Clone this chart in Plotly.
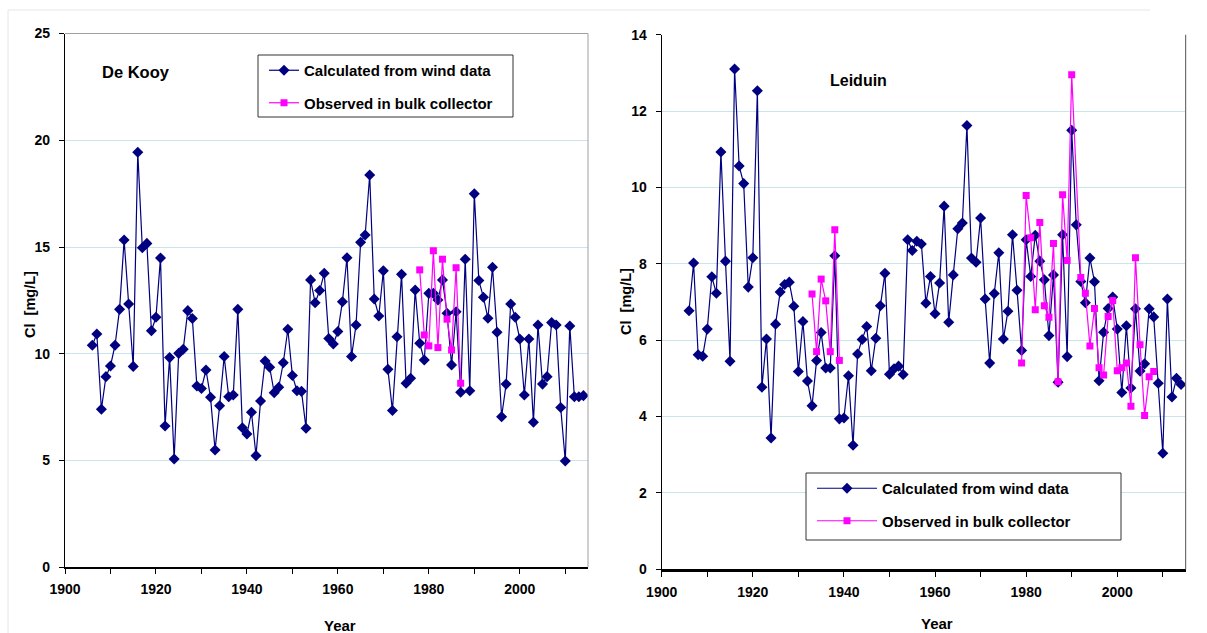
import plotly.graph_objects as go

# ---------------- data ----------------
years = list(range(1906, 2015))

dekooy_calc = [
    10.40, 10.93, 7.40, 8.93, 9.43, 10.40, 12.08, 15.33, 12.33, 9.41,   # 1906-1915
    19.44, 14.97, 15.17, 11.08, 11.71, 14.49, 6.62, 9.82, 5.07, 10.02,   # 1916-1925
    10.21, 12.02, 11.65, 8.49, 8.37, 9.24, 7.96, 5.49, 7.57, 9.87,       # 1926-1935
    7.99, 8.07, 12.08, 6.54, 6.24, 7.26, 5.23, 7.79, 9.66, 9.37,         # 1936-1945
    8.18, 8.43, 9.58, 11.15, 8.98, 8.27, 8.24, 6.51, 13.46, 12.39,       # 1946-1955
    12.96, 13.77, 10.72, 10.46, 11.04, 12.44, 14.50, 9.87, 11.35, 15.22, # 1956-1965
    15.56, 18.37, 12.57, 11.77, 13.89, 9.27, 7.34, 10.80, 13.72, 8.62,   # 1966-1975
    8.85, 12.99, 10.49, 9.71, 12.83, 12.83, 12.52, 13.46, 11.90, 9.48,   # 1976-1985
    11.97, 8.20, 14.43, 8.27, 17.49, 13.43, 12.65, 11.66, 14.05, 11.01,  # 1986-1995
    7.05, 8.58, 12.33, 11.71, 10.69, 8.07, 10.69, 6.79, 11.35, 8.58,     # 1996-2005
    8.93, 11.46, 11.35, 7.48, 4.98, 11.30, 7.99, 7.99, 8.04              # 2006-2014
]

dekooy_obs_years = [1978, 1979, 1980, 1981, 1982, 1983, 1984, 1985, 1986, 1987]
dekooy_obs = [13.93, 10.88, 10.37, 14.82, 10.29, 14.43, 11.62, 10.18, 14.03, 8.62]

leiduin_calc = [
    6.77, 8.02, 5.62, 5.58, 6.29, 7.66, 7.23, 10.93, 8.07, 5.45,         # 1906-1915
    13.10, 10.56, 10.10, 7.39, 8.16, 12.53, 4.77, 6.03, 3.44, 6.42,      # 1916-1925
    7.26, 7.46, 7.52, 6.89, 5.18, 6.49, 4.93, 4.28, 5.47, 6.20,          # 1926-1935
    5.27, 5.27, 8.21, 3.94, 3.96, 5.07, 3.25, 5.64, 6.02, 6.36,          # 1936-1945
    5.20, 6.05, 6.90, 7.75, 5.11, 5.25, 5.32, 5.10, 8.63, 8.35,          # 1946-1955
    8.59, 8.52, 6.97, 7.67, 6.69, 7.50, 9.51, 6.47, 7.71, 8.92,          # 1956-1965
    9.07, 11.62, 8.15, 8.04, 9.20, 7.08, 5.40, 7.22, 8.29, 6.03,         # 1966-1975
    6.76, 8.76, 7.31, 5.73, 8.63, 7.67, 8.75, 8.07, 7.58, 6.12,          # 1976-1985
    7.71, 4.90, 8.76, 5.57, 11.50, 9.02, 7.54, 6.98, 8.15, 7.53,         # 1986-1995
    4.94, 6.21, 6.83, 7.13, 6.29, 4.63, 6.38, 4.75, 6.82, 5.19,          # 1996-2005
    5.38, 6.82, 6.61, 4.87, 3.04, 7.08, 4.51, 5.00, 4.84                 # 2006-2014
]

leiduin_obs_years = [1933, 1934, 1935, 1936, 1937, 1938, 1939, 1940,
                     1979, 1980, 1981, 1982, 1983, 1984, 1985, 1986, 1987, 1988, 1989, 1990,
                     1992, 1993, 1994, 1995, 1996, 1997, 1998, 1999, 2000,
                     2001, 2002, 2003, 2004, 2005, 2006, 2007, 2008]
leiduin_obs = [7.21, 5.70, 7.60, 7.03, 5.70, 8.89, 5.47, None,
               5.40, 9.79, 8.68, 6.80, 9.08, 6.90, 6.60, 8.53, 4.91, 9.81, 8.09, 12.95,
               7.64, 7.23, 5.85, 6.83, 5.28, 5.09, 6.62, 7.04, 5.20,
               5.28, 5.40, 4.27, 8.16, 5.88, 4.03, 5.04, 5.18]

x_ticks = [1900, 1920, 1940, 1960, 1980, 2000]
name_calc = "Calculated from wind data"
name_obs = "Observed in bulk collector"

# ---------------- figure ----------------
W, H = 1207, 633
FONT = "Liberation Sans, Arial, sans-serif"
NAVY = "#000080"
MAG = "#FF00FF"
GRID = "#c9e4ec"


def px_x(p):
    return p / W


def px_y(p):
    return 1 - p / H


fig = go.Figure()

fig.add_trace(go.Scatter(x=years, y=dekooy_calc, name=name_calc, mode="lines+markers",
                         line=dict(color=NAVY, width=1.2),
                         marker=dict(symbol="diamond", size=8.5, color=NAVY),
                         xaxis="x", yaxis="y", legend="legend", legendgroup="a"))
fig.add_trace(go.Scatter(x=dekooy_obs_years, y=dekooy_obs, name=name_obs, mode="lines+markers",
                         line=dict(color=MAG, width=1.2),
                         marker=dict(symbol="square", size=7, color=MAG),
                         xaxis="x", yaxis="y", legend="legend", legendgroup="b"))
fig.add_trace(go.Scatter(x=years, y=leiduin_calc, name=name_calc, mode="lines+markers",
                         line=dict(color=NAVY, width=1.2),
                         marker=dict(symbol="diamond", size=8.5, color=NAVY),
                         xaxis="x2", yaxis="y2", legend="legend2", legendgroup="c"))
fig.add_trace(go.Scatter(x=leiduin_obs_years, y=leiduin_obs, name=name_obs, mode="lines+markers",
                         connectgaps=False,
                         line=dict(color=MAG, width=1.2),
                         marker=dict(symbol="square", size=7, color=MAG),
                         xaxis="x2", yaxis="y2", legend="legend2", legendgroup="d"))

tickfont = dict(family=FONT, size=14, color="black", weight="bold")

xcommon = dict(range=[1900, 2015], tickvals=x_ticks, ticks="outside", ticklen=5,
               tickcolor="black", showgrid=False, zeroline=False, showline=True,
               linecolor="black", tickfont=tickfont, ticklabelstandoff=3, automargin=False,
               minor=dict(tickvals=list(range(1910, 2015, 20)), ticks="outside",
                          ticklen=5, tickcolor="black", showgrid=False))
ycommon = dict(ticks="outside", ticklen=5, tickcolor="black", showgrid=True,
               gridcolor=GRID, gridwidth=1, zeroline=False, showline=True,
               linecolor="black", linewidth=1.2, tickfont=tickfont, ticklabelstandoff=6,
               automargin=False)

legend_common = dict(bgcolor="rgba(0,0,0,0)", borderwidth=0,
                     font=dict(family=FONT, size=15, color="black", weight="bold"),
                     xanchor="left", yanchor="top", tracegroupgap=10,
                     orientation="v")

fig.update_layout(
    width=W, height=H,
    margin=dict(l=0, r=0, t=0, b=0, autoexpand=False),
    paper_bgcolor="white", plot_bgcolor="white",
    showlegend=True,
    xaxis=dict(domain=[px_x(65), px_x(588)], anchor="y", linewidth=1.5, **xcommon),
    yaxis=dict(domain=[px_y(567.3), px_y(33.5)], anchor="x", range=[0, 25],
               tickvals=[0, 5, 10, 15, 20, 25], **ycommon),
    xaxis2=dict(domain=[px_x(661.7), px_x(1185.6)], anchor="y2", linewidth=2.5, **xcommon),
    yaxis2=dict(domain=[px_y(569.3), px_y(34.7)], anchor="x2", range=[0, 14],
                tickvals=[0, 2, 4, 6, 8, 10, 12, 14], **ycommon),
    legend=dict(x=px_x(264), y=px_y(54), itemwidth=30, **legend_common),
    legend2=dict(x=px_x(812), y=px_y(472), itemwidth=60, **legend_common),
    annotations=[
        dict(text="De Kooy", x=px_x(100), y=px_y(72), xref="paper", yref="paper",
             xanchor="left", yanchor="middle", showarrow=False,
             font=dict(family=FONT, size=16.5, color="black", weight="bold")),
        dict(text="Leiduin", x=px_x(828), y=px_y(80), xref="paper", yref="paper",
             xanchor="left", yanchor="middle", showarrow=False,
             font=dict(family=FONT, size=16, color="black", weight="bold")),
        dict(text="Cl  [mg/L]", x=px_x(30), y=px_y(305), xref="paper", yref="paper",
             textangle=-90, showarrow=False, xanchor="center", yanchor="middle",
             font=dict(family=FONT, size=14.5, color="black", weight="bold")),
        dict(text="Cl  [mg/L]", x=px_x(626), y=px_y(302), xref="paper", yref="paper",
             textangle=-90, showarrow=False, xanchor="center", yanchor="middle",
             font=dict(family=FONT, size=14.5, color="black", weight="bold")),
        dict(text="Year", x=px_x(340), y=px_y(625), xref="paper", yref="paper",
             showarrow=False, xanchor="center", yanchor="middle",
             font=dict(family=FONT, size=15, color="black", weight="bold")),
        dict(text="Year", x=px_x(937), y=px_y(623), xref="paper", yref="paper",
             showarrow=False, xanchor="center", yanchor="middle",
             font=dict(family=FONT, size=15, color="black", weight="bold")),
    ],
    shapes=[
        # plot-area borders (top and right, gray)
        dict(type="line", xref="x domain", yref="y domain", x0=0, x1=1, y0=1, y1=1,
             line=dict(color="#a0a0a0", width=1)),
        dict(type="line", xref="x domain", yref="y domain", x0=1, x1=1, y0=0, y1=1,
             line=dict(color="#a0a0a0", width=1)),
        dict(type="line", xref="x2 domain", yref="y2 domain", x0=1, x1=1, y0=0, y1=1,
             line=dict(color="#707070", width=1.2)),
        # legend boxes
        dict(type="rect", xref="paper", yref="paper", layer="above",
             x0=px_x(258), x1=px_x(513), y0=px_y(117), y1=px_y(55),
             fillcolor="white", line=dict(color="#333333", width=1)),
        dict(type="rect", xref="paper", yref="paper", layer="above",
             x0=px_x(806), x1=px_x(1121), y0=px_y(540), y1=px_y(473),
             fillcolor="white", line=dict(color="#333333", width=1)),
        # faint outer frame lines
        dict(type="line", xref="paper", yref="paper", x0=px_x(8), x1=px_x(8),
             y0=0, y1=px_y(10), line=dict(color="#e6e6e6", width=1)),
        dict(type="line", xref="paper", yref="paper", x0=px_x(8), x1=px_x(1150),
             y0=px_y(10), y1=px_y(10), line=dict(color="#e6e6e6", width=1)),
    ],
)

fig.write_html("out.html", config={"displayModeBar": False},
               post_script="document.body.style.margin='0px';")
